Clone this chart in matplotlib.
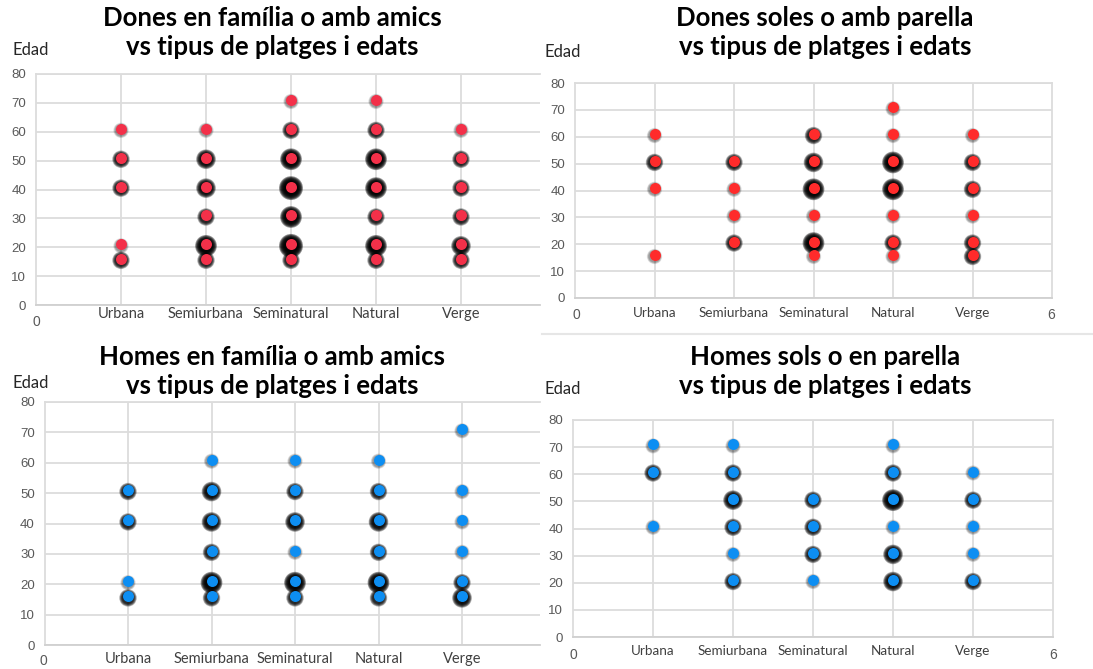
import matplotlib
matplotlib.use("Agg")
import matplotlib.pyplot as plt
import numpy as np
from matplotlib.transforms import offset_copy
from matplotlib.lines import Line2D

# Dades (edat aproximada i intensitat del "glow" = nombre de respostes superposades)
categories = ['Urbana', 'Semiurbana', 'Seminatural', 'Natural', 'Verge']

dones_familia_edats = [[61, 51, 41, 21, 16],
                       [61, 51, 41, 31, 21, 16],
                       [71, 61, 51, 41, 31, 21, 16],
                       [71, 61, 51, 41, 31, 21, 16],
                       [61, 51, 41, 31, 21, 16]]
dones_familia_n = [[1, 2, 2, 1, 2],
                   [1, 3, 3, 2, 4, 2],
                   [1, 2, 4, 5, 4, 5, 2],
                   [1, 2, 4, 4, 2, 4, 2],
                   [1, 2, 2, 2, 3, 2]]

dones_soles_edats = [[61, 51, 41, 16],
                     [51, 41, 31, 21],
                     [61, 51, 41, 31, 21, 16],
                     [71, 61, 51, 41, 31, 21, 16],
                     [61, 51, 41, 31, 21, 16]]
dones_soles_n = [[1, 2, 1, 1],
                 [2, 1, 1, 2],
                 [2, 3, 4, 1, 4, 1],
                 [1, 1, 4, 4, 1, 2, 1],
                 [1, 2, 2, 1, 2, 2]]

homes_familia_edats = [[51, 41, 21, 16],
                       [61, 51, 41, 31, 21, 16],
                       [61, 51, 41, 31, 21, 16],
                       [61, 51, 41, 31, 21, 16],
                       [71, 51, 41, 31, 21, 16]]
homes_familia_n = [[2, 2, 1, 2],
                   [1, 3, 3, 2, 4, 2],
                   [1, 2, 3, 1, 4, 2],
                   [1, 2, 3, 2, 4, 2],
                   [1, 1, 1, 1, 2, 3]]

homes_sols_edats = [[71, 61, 41],
                    [71, 61, 51, 41, 31, 21],
                    [51, 41, 31, 21],
                    [71, 61, 51, 41, 31, 21],
                    [61, 51, 41, 31, 21]]
homes_sols_n = [[1, 2, 1],
                [1, 2, 3, 2, 1, 2],
                [2, 2, 2, 1],
                [1, 2, 4, 1, 3, 3],
                [1, 2, 1, 1, 2]]

W, H = 1093, 669
fig = plt.figure(figsize=(W / 100, H / 100), dpi=100)

FONT = 'Lato'
GRID = '#dcdcdc'
ALFA_GLOW = [0.06, 0.2, 0.28, 0.36, 0.42]


def txt(x, y, s, **kw):
    fig.text(x / W, 1 - y / H, s, ha=kw.pop('ha', 'center'), va='center', **kw)


def panell(edats, ns, color, titol, x0, esp, y_top, y_bot, x_dreta, tx, ty, edad_xy,
           cat_y, cat_fs, zero_xy, sis_xy=None):
    xmax = (x_dreta - x0) / esp
    ax = fig.add_axes([x0 / W, 1 - y_bot / H, (x_dreta - x0) / W, (y_bot - y_top) / H])
    ax.set_xlim(0, xmax)
    ax.set_ylim(0, 80)
    ax.set_yticks(range(0, 81, 10))
    ax.set_xticks(range(1, 6))
    ax.set_xticklabels([])
    ax.tick_params(length=0, labelsize=9.5, labelcolor='#595959', pad=7)
    for lab in ax.get_yticklabels():
        lab.set_fontfamily('Liberation Sans')
    ax.grid(True, color=GRID, lw=1.3, zorder=0)
    ax.set_axisbelow(True)
    for s in ax.spines.values():
        s.set_color(GRID)
        s.set_linewidth(1.3)
    ax.spines['bottom'].set_color('#d0d0d0')
    if sis_xy is None:
        ax.spines['right'].set_visible(False)

    xs, ys, nn = [], [], []
    for i, (eds, cnt) in enumerate(zip(edats, ns)):
        for e, c in zip(eds, cnt):
            xs.append(i + 1)
            ys.append(e)
            nn.append(c)
    nn = np.array(nn)

    # resplendor negre (ombra difuminada), més gran i fosca com més respostes
    trans = offset_copy(ax.transData, fig=fig, x=0, y=-1.5, units='dots')
    capes = 8
    ext = 1.2 + 1.05 * nn
    cols = [(0, 0, 0, ALFA_GLOW[c - 1]) for c in nn]
    for k in range(capes, 0, -1):
        r_px = 5.5 + ext * k / capes
        ax.scatter(xs, ys, s=(2 * r_px * 0.72) ** 2, c=cols, linewidths=0,
                   transform=trans, zorder=2, clip_on=False)
    ax.scatter(xs, ys, s=(11 * 0.72) ** 2, color=color, linewidths=0, zorder=3,
               clip_on=False)

    for i, cat in enumerate(categories):
        txt(x0 + (i + 1) * esp, cat_y, cat, fontsize=cat_fs, family=FONT, color='#404040')
    txt(zero_xy[0], zero_xy[1], '0', fontsize=10, family='Liberation Sans', color='#595959')
    if sis_xy is not None:
        txt(sis_xy[0], sis_xy[1], '6', fontsize=10, family='Liberation Sans', color='#595959')
    txt(edad_xy[0], edad_xy[1], 'Edad', ha='left', fontsize=12, family=FONT, color='#262626')
    l1, l2 = titol
    txt(tx, ty, l1, fontsize=18.5, fontweight='bold', family=FONT, color='black')
    txt(tx, ty + 29, l2, fontsize=18.5, fontweight='bold', family=FONT, color='black')
    return ax


panell(dones_familia_edats, dones_familia_n, '#f33049',
       ('Dones en família o amb amics', 'vs tipus de platges i edats'),
       x0=36, esp=85, y_top=74, y_bot=305, x_dreta=540, tx=272, ty=18,
       edad_xy=(12, 50), cat_y=314, cat_fs=10.5, zero_xy=(36, 322))

panell(dones_soles_edats, dones_soles_n, '#ff2b2b',
       ('Dones soles o amb parella', 'vs tipus de platges i edats'),
       x0=575, esp=79.5, y_top=83, y_bot=298, x_dreta=1052, tx=825, ty=18,
       edad_xy=(545, 52), cat_y=313, cat_fs=9.7, zero_xy=(576, 315), sis_xy=(1051, 315))

panell(homes_familia_edats, homes_familia_n, '#0d8ef2',
       ('Homes en família o amb amics', 'vs tipus de platges i edats'),
       x0=44.5, esp=83.5, y_top=402, y_bot=645, x_dreta=540, tx=272, ty=357,
       edad_xy=(12, 383), cat_y=659, cat_fs=10.5, zero_xy=(43, 661))

panell(homes_sols_edats, homes_sols_n, '#0d8ef2',
       ('Homes sols o en parella', 'vs tipus de platges i edats'),
       x0=573, esp=80, y_top=420, y_bot=637, x_dreta=1053, tx=825, ty=357,
       edad_xy=(545, 389), cat_y=651, cat_fs=9.7, zero_xy=(573, 655), sis_xy=(1053, 655))

fig.add_artist(Line2D([542 / W, 1], [1 - 334 / H, 1 - 334 / H], color='#e6e6e6', lw=1.5))

fig.savefig('out.png', dpi=100)
